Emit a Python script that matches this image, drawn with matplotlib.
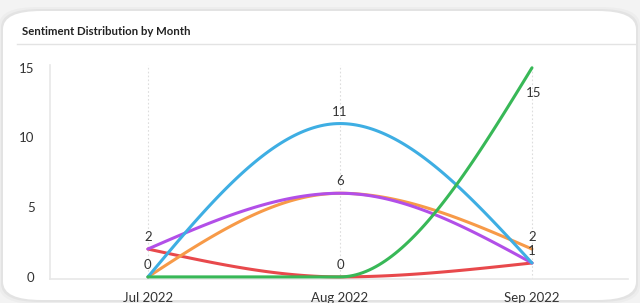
import numpy as np
import matplotlib
matplotlib.use("Agg")
import matplotlib.pyplot as plt
from matplotlib.patches import FancyBboxPatch
from matplotlib.lines import Line2D

plt.rcParams['font.family'] = ['Lato', 'DejaVu Sans']

# data
months = ["Jul 2022", "Aug 2022", "Sep 2022"]
red = [2, 0, 1]
orange = [0, 6, 2]
purple = [2, 6, 1]
blue = [0, 11, 1]
green = [0, 0, 15]

series = [
    (red, "#e8494c"),
    (orange, "#f79a48"),
    (purple, "#b24fe8"),
    (blue, "#3eaee3"),
    (green, "#38b857"),
]


def monotone_x(xs, ys, n=60):
    # d3 curveMonotoneX style interpolation
    xs = np.asarray(xs, float)
    ys = np.asarray(ys, float)
    h = np.diff(xs)
    s = np.diff(ys) / h
    t = np.zeros(len(xs))
    for i in range(1, len(xs) - 1):
        p = (s[i - 1] * h[i] + s[i] * h[i - 1]) / (h[i - 1] + h[i])
        t[i] = (np.sign(s[i - 1]) + np.sign(s[i])) * min(abs(s[i - 1]), abs(s[i]), 0.5 * abs(p))
    t[0] = (3 * s[0] - t[1]) / 2
    t[-1] = (3 * s[-1] - t[-2]) / 2
    px, py = [], []
    u = np.linspace(0, 1, n)
    for i in range(len(xs) - 1):
        x0, x1 = xs[i], xs[i + 1]
        y0, y1 = ys[i], ys[i + 1]
        c = [(x0, y0), (x0 + h[i] / 3, y0 + t[i] * h[i] / 3),
             (x1 - h[i] / 3, y1 - t[i + 1] * h[i] / 3), (x1, y1)]
        b = [(1 - u) ** 3, 3 * u * (1 - u) ** 2, 3 * u ** 2 * (1 - u), u ** 3]
        px.extend(sum(b[k] * c[k][0] for k in range(4)))
        py.extend(sum(b[k] * c[k][1] for k in range(4)))
    return np.array(px), np.array(py)


fig = plt.figure(figsize=(6.4, 3.03), dpi=100)
fig.patch.set_facecolor("#f3f3f3")
W, H = 640, 303

# card with soft shadow
for grow, a in [(4, 0.025), (2, 0.04)]:
    fig.patches.append(FancyBboxPatch(((3 - grow) / W, (3 - grow) / H), (633 + 2 * grow) / W, (289 + 2 * grow) / H,
                                      boxstyle="round,pad=0,rounding_size=0.06", transform=fig.transFigure,
                                      facecolor="#000000", alpha=a, edgecolor="none", zorder=-3))
fig.patches.append(FancyBboxPatch((3 / W, 3 / H), 633 / W, 289 / H,
                                  boxstyle="round,pad=0,rounding_size=0.06", transform=fig.transFigure,
                                  facecolor="white", edgecolor="none", zorder=-2))

fig.text(22 / W, 1 - 31.5 / H, "Sentiment Distribution by Month", fontsize=8.2, fontweight="bold",
         color="#222222", va="center", ha="left")
fig.lines.append(Line2D([17 / W, 636 / W], [1 - 44 / H, 1 - 44 / H], transform=fig.transFigure,
                        color="#e3e3e3", lw=1, zorder=-1))

ax = fig.add_axes([50 / W, 1 - 279 / H, 578 / W, 214 / H])
ax.set_facecolor("none")
x = np.arange(len(months))
ax.set_xlim(-0.51, 2.5)
ax.set_ylim(-0.15, 15.2)

for xi in x:
    ax.axvline(xi, color="#dddddd", lw=0.8, ls=(0, (1.5, 2)), zorder=1)

for vals, col in series:
    sx, sy = monotone_x(x, vals)
    ax.plot(sx, sy, color=col, lw=2.2, solid_capstyle="round", zorder=3, clip_on=False)

# data labels, one per distinct value in each month
for i in x:
    shown = []
    for vals, col in series:
        v = vals[i]
        if v in shown:
            continue
        shown.append(v)
        if v >= 14:
            ax.annotate(str(v), (i, v), xytext=(2, -25), textcoords="offset pixels", ha="center",
                        va="center", fontsize=9.5, color="#333333", zorder=4)
        else:
            ax.annotate(str(v), (i, v), xytext=(0, 12), textcoords="offset pixels", ha="center",
                        va="center", fontsize=9.5, color="#333333", zorder=4)

ax.set_xticks(x)
ax.set_xticklabels(months)
ax.set_yticks([0, 5, 10, 15])
ax.tick_params(axis="both", length=0, labelsize=9.5, labelcolor="#333333")
ax.tick_params(axis="x", pad=9)
ax.tick_params(axis="y", pad=11)
for side in ["top", "right"]:
    ax.spines[side].set_visible(False)
ax.spines["left"].set_color("#e8e8e8")
ax.spines["bottom"].set_color("#e8e8e8")
ax.spines["left"].set_linewidth(1.2)
ax.spines["bottom"].set_linewidth(1.2)

fig.savefig("out.png", dpi=100, facecolor=fig.get_facecolor())
